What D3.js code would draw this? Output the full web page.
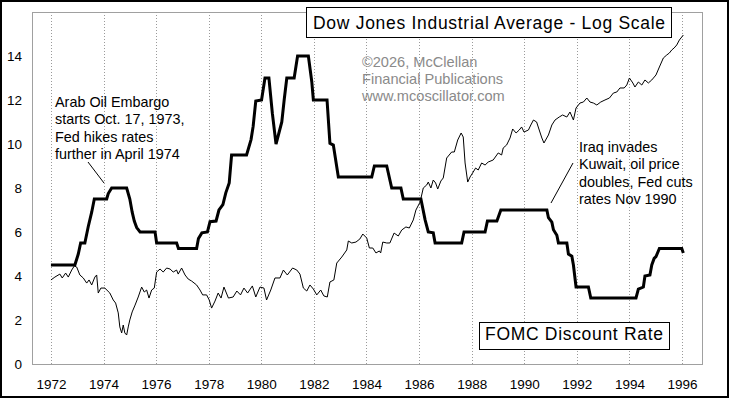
<!DOCTYPE html>
<html>
<head>
<meta charset="utf-8">
<script src="https://cdnjs.cloudflare.com/ajax/libs/d3/7.8.5/d3.min.js"></script>
<style>
  body { margin: 0; background: #fff; }
  svg { display: block; font-family: Arial, "Liberation Sans", sans-serif; }
</style>
</head>
<body>
<div id="chart"></div>
<script>
// axis ticks
var yearTicks = [1972, 1974, 1976, 1978, 1980, 1982, 1984, 1986, 1988, 1990, 1992, 1994, 1996]
var rateTicks = [0, 2, 4, 6, 8, 10, 12, 14]

// FOMC discount rate (%), vertices of the monthly line
var rateYears = [1972.00,1972.91,1973.04,1973.13,1973.29,1973.42,1973.55,1973.65,1974.12,1974.18,
  1974.31,1974.88,1975.00,1975.09,1975.17,1975.26,1975.39,1975.96,1976.02,1976.78,
  1976.85,1977.54,1977.61,1977.74,1977.95,1978.05,1978.28,1978.39,1978.54,1978.65,
  1978.78,1978.87,1979.44,1979.61,1979.69,1979.79,1980.01,1980.14,1980.29,1980.42,
  1980.56,1980.67,1980.78,1980.87,1980.97,1981.25,1981.38,1981.79,1981.92,1981.98,
  1982.50,1982.61,1982.74,1982.93,1984.20,1984.30,1984.77,1984.96,1985.31,1985.40,
  1986.07,1986.23,1986.35,1986.54,1986.61,1987.62,1987.71,1988.51,1988.60,1988.96,
  1989.11,1990.86,1990.92,1991.05,1991.11,1991.24,1991.30,1991.62,1991.68,1991.81,
  1991.87,1991.97,1992.44,1992.53,1994.25,1994.34,1994.53,1994.59,1994.78,1994.85,
  1994.94,1995.01,1995.14,1995.99,1996.05]
var rateValues = [4.5,4.5,5.0,5.5,5.5,6.25,6.9,7.5,7.5,7.75,
  8.0,8.0,7.5,6.9,6.5,6.2,6.0,6.0,5.5,5.5,
  5.25,5.25,5.7,5.96,6.0,6.47,6.5,7.0,7.25,7.78,
  8.23,9.5,9.5,10.2,10.8,11.95,12.0,13.0,13.0,11.4,
  10.0,10.5,11.0,12.0,13.0,13.0,14.0,14.0,12.83,12.0,
  12.0,10.03,9.95,8.5,8.5,9.0,9.0,8.0,8.0,7.5,
  7.5,6.55,6.0,5.96,5.5,5.5,6.0,6.0,6.5,6.5,
  7.0,7.0,6.65,6.45,6.1,5.85,5.5,5.5,5.0,4.9,
  4.5,3.5,3.5,3.0,3.0,3.4,3.5,4.0,4.05,4.5,
  4.8,4.88,5.25,5.25,5.05]

// Dow Jones Industrial Average, log scale (no axis shown)
var djiaYears = [1972.00,1972.15,1972.34,1972.43,1972.56,1972.66,1972.79,1972.89,1972.98,1973.10,
  1973.23,1973.36,1973.45,1973.55,1973.67,1973.74,1973.80,1973.90,1974.05,1974.24,
  1974.37,1974.46,1974.56,1974.62,1974.69,1974.75,1974.81,1974.88,1974.94,1975.00,
  1975.09,1975.20,1975.32,1975.45,1975.55,1975.64,1975.73,1975.83,1975.93,1976.02,
  1976.15,1976.27,1976.40,1976.53,1976.65,1976.78,1976.84,1976.97,1977.10,1977.22,
  1977.35,1977.54,1977.67,1977.77,1977.92,1978.02,1978.11,1978.24,1978.36,1978.47,
  1978.58,1978.75,1978.93,1979.07,1979.21,1979.34,1979.48,1979.66,1979.79,1979.95,
  1980.10,1980.20,1980.36,1980.52,1980.71,1980.84,1980.99,1981.19,1981.35,1981.47,
  1981.60,1981.73,1981.85,1981.98,1982.11,1982.26,1982.38,1982.51,1982.61,1982.76,
  1982.87,1983.06,1983.25,1983.31,1983.44,1983.60,1983.75,1983.86,1984.01,1984.11,
  1984.24,1984.36,1984.49,1984.54,1984.62,1984.77,1984.89,1985.05,1985.21,1985.34,
  1985.50,1985.63,1985.78,1985.88,1986.04,1986.16,1986.29,1986.35,1986.45,1986.54,
  1986.63,1986.71,1986.83,1986.92,1987.05,1987.24,1987.34,1987.47,1987.60,1987.68,
  1987.75,1987.85,1987.94,1988.06,1988.15,1988.25,1988.38,1988.51,1988.63,1988.82,
  1989.01,1989.14,1989.20,1989.33,1989.46,1989.56,1989.69,1989.81,1989.90,1989.99,
  1990.16,1990.25,1990.35,1990.47,1990.57,1990.67,1990.75,1990.92,1991.05,1991.17,
  1991.33,1991.46,1991.62,1991.74,1991.87,1991.97,1992.12,1992.25,1992.38,1992.50,
  1992.63,1992.76,1992.91,1993.07,1993.24,1993.39,1993.52,1993.64,1993.80,1993.90,
  1994.00,1994.13,1994.21,1994.34,1994.47,1994.59,1994.72,1994.85,1995.01,1995.14,
  1995.29,1995.42,1995.52,1995.61,1995.70,1995.80,1995.90,1995.99,1996.05]
var djiaClose = [882,901,921,895,928,901,949,978,970,915,
  895,862,882,850,901,915,801,831,831,801,
  761,744,692,624,597,633,597,588,624,657,
  697,733,778,837,807,819,772,819,831,935,
  956,935,963,956,935,949,921,963,915,888,
  875,850,819,790,790,761,717,755,801,772,
  837,772,778,813,790,831,801,844,778,837,
  831,761,819,895,895,949,915,963,949,921,
  831,813,850,825,790,819,784,778,869,882,
  999,1044,1100,1175,1158,1166,1193,1237,1201,1116,
  1116,1076,1092,1076,1166,1158,1158,1246,1219,1274,
  1303,1293,1372,1476,1566,1736,1775,1814,1736,1841,
  1801,1723,1828,1869,2165,2263,2263,2472,2603,2527,
  2087,1814,1883,1953,2011,1982,2087,2056,2102,2134,
  2247,2214,2331,2383,2509,2681,2603,2661,2721,2622,
  2661,2761,2864,2823,2661,2509,2418,2565,2761,2864,
  2928,2972,2928,3038,2864,3129,3246,3270,3368,3270,
  3246,3199,3270,3319,3368,3494,3520,3626,3626,3706,
  3903,3762,3652,3789,3706,3846,3762,3846,3990,4232,
  4522,4623,4692,4797,4868,4977,5163,5278,5357]

// text blocks
var titleText = 'Dow Jones Industrial Average - Log Scale'
var legendText = 'FOMC Discount Rate'
var creditLines = ['\u00a92026, McClellan', 'Financial Publications', 'www.mcoscillator.com']
var oilNote = ['Arab Oil Embargo', 'starts Oct. 17, 1973,', 'Fed hikes rates', 'further in April 1974']
var iraqNote = ['Iraq invades', 'Kuwait, oil price', 'doubles, Fed cuts', 'rates Nov 1990']

var width = 729
var height = 398
var plot = { left: 32, top: 12, right: 702, bottom: 364 }

var x = d3.scaleLinear().domain([1971.28, 1996.76]).range([plot.left, plot.right])
var y = d3.scaleLinear().domain([0, 16]).range([plot.bottom, plot.top])
var yLog = d3.scaleLog().domain([475, 6345]).range([plot.bottom, plot.top])

var svg = d3.select('#chart').append('svg')
    .attr('width', width)
    .attr('height', height)

svg.append('rect')
    .attr('width', width).attr('height', height)
    .attr('fill', '#fff')

// plot frame
svg.append('rect')
    .attr('x', plot.left).attr('y', plot.top)
    .attr('width', plot.right - plot.left)
    .attr('height', plot.bottom - plot.top)
    .attr('fill', 'none')
    .attr('stroke', '#a0a0a0')
    .attr('shape-rendering', 'crispEdges')

// dotted year grid
svg.append('g').selectAll('line')
    .data(yearTicks)
    .enter().append('line')
    .attr('x1', function (d) { return Math.round(x(d)) + 0.5 })
    .attr('x2', function (d) { return Math.round(x(d)) + 0.5 })
    .attr('y1', plot.top)
    .attr('y2', plot.bottom)
    .attr('stroke', '#9a9a9a')
    .attr('stroke-dasharray', '1,2')

// axes, labels only
var yAxis = svg.append('g')
    .attr('transform', 'translate(22,0)')
    .call(d3.axisLeft(y).tickValues(rateTicks).tickSize(0).tickPadding(0))
var xAxis = svg.append('g')
    .attr('transform', 'translate(0,379)')
    .call(d3.axisBottom(x).tickValues(yearTicks).tickFormat(d3.format('d')).tickSize(0).tickPadding(0))
svg.selectAll('.domain').remove()
svg.selectAll('.tick text')
    .attr('fill', '#000')
    .style('font-size', '13.5px')
    .style('font-family', 'Arial, "Liberation Sans", sans-serif')

// credit text
svg.append('g').selectAll('text')
    .data(creditLines)
    .enter().append('text')
    .attr('x', 362)
    .attr('y', function (d, i) { return 67 + i * 17 })
    .attr('fill', '#8a8a8a')
    .style('font-size', '14.6px')
    .text(function (d) { return d })

// annotations
function note(lines, left, top) {
    svg.append('g').selectAll('text')
        .data(lines)
        .enter().append('text')
        .attr('x', left)
        .attr('y', function (d, i) { return top + i * 17.4 })
        .style('font-size', '14.4px')
        .text(function (d) { return d })
}
note(oilNote, 55, 107)
note(iraqNote, 579, 152)

svg.append('line')
    .attr('x1', 88).attr('y1', 162).attr('x2', 104).attr('y2', 183)
    .attr('stroke', '#000')
svg.append('line')
    .attr('x1', 573).attr('y1', 163).attr('x2', 551).attr('y2', 203)
    .attr('stroke', '#000')

// discount rate line
var rateLine = d3.line()
    .x(function (d, i) { return x(rateYears[i]) })
    .y(function (d) { return y(d) })
svg.append('path')
    .datum(rateValues)
    .attr('d', rateLine)
    .attr('fill', 'none')
    .attr('stroke', '#000')
    .attr('stroke-width', 3)
    .attr('stroke-linejoin', 'miter')

// djia line
var djiaLine = d3.line()
    .x(function (d, i) { return x(djiaYears[i]) })
    .y(function (d) { return yLog(d) })
svg.append('path')
    .datum(djiaClose)
    .attr('d', djiaLine)
    .attr('fill', 'none')
    .attr('stroke', '#000')
    .attr('stroke-width', 1)

// title box
svg.append('rect')
    .attr('x', 306).attr('y', 7)
    .attr('width', 365).attr('height', 30)
    .attr('fill', '#fff').attr('stroke', '#000')
    .attr('shape-rendering', 'crispEdges')
svg.append('text')
    .attr('x', 313).attr('y', 29)
    .attr('textLength', 352)
    .attr('lengthAdjust', 'spacing')
    .style('font-size', '17.5px')
    .text(titleText)

// legend box
svg.append('rect')
    .attr('x', 479).attr('y', 322)
    .attr('width', 190).attr('height', 27)
    .attr('fill', '#fff').attr('stroke', '#000')
    .attr('shape-rendering', 'crispEdges')
svg.append('text')
    .attr('x', 485).attr('y', 340)
    .attr('textLength', 178)
    .attr('lengthAdjust', 'spacing')
    .style('font-size', '17.5px')
    .text(legendText)

// outer border
svg.append('rect')
    .attr('x', 1).attr('y', 1)
    .attr('width', width - 2).attr('height', height - 2)
    .attr('fill', 'none')
    .attr('stroke', '#000')
    .attr('stroke-width', 2)
</script>
</body>
</html>
